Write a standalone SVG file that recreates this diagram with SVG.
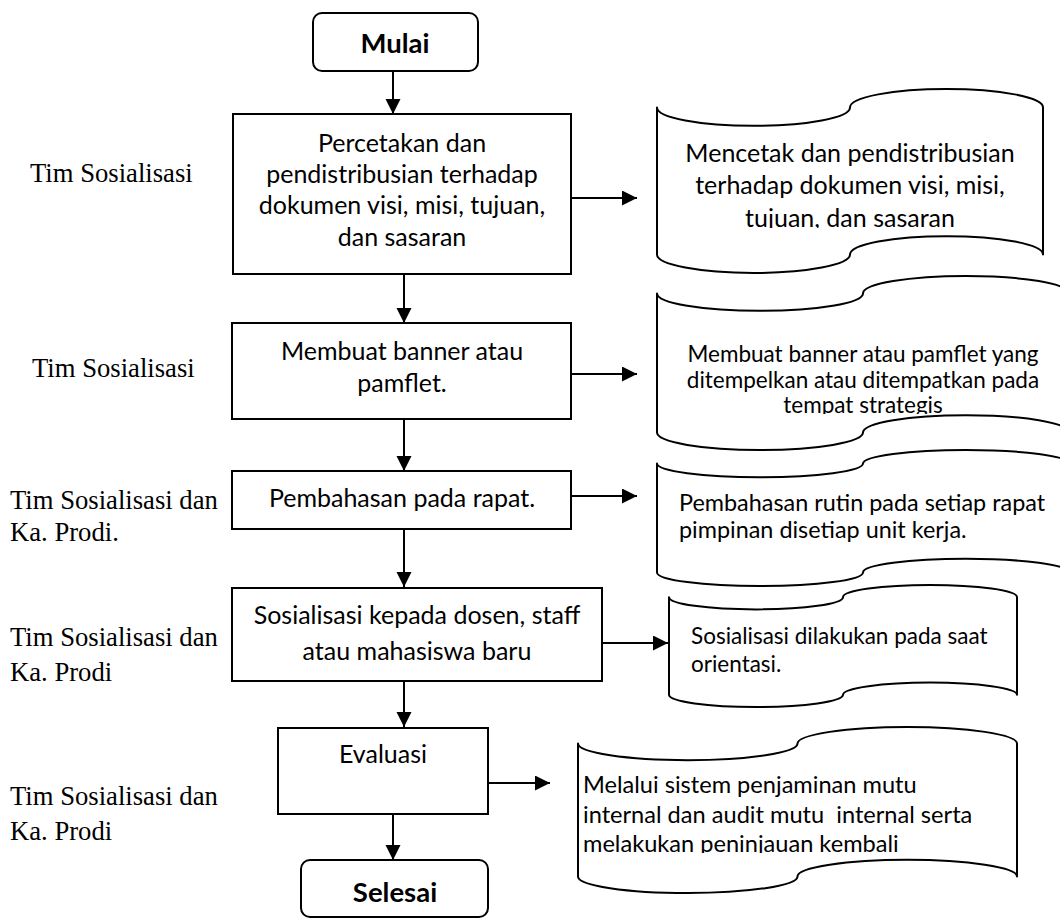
<svg xmlns="http://www.w3.org/2000/svg" width="1060" height="920" viewBox="0 0 1060 920">
<style>
.box{fill:#fff;stroke:#000;stroke-width:2}
.doc{fill:#fff;stroke:#000;stroke-width:2;stroke-linejoin:round}
.t{font-family:Lato,"Open Sans",sans-serif;fill:#000}
.bt{font-size:25px;text-anchor:middle}
.dt{font-size:22.5px}
.term{font-family:Lato,"Open Sans",sans-serif;font-weight:bold;font-size:27.5px;text-anchor:middle}
.lbl{font-family:"Liberation Serif","Times New Roman",serif;font-size:26.67px;fill:#000}
.conn{stroke:#000;stroke-width:2;fill:none;marker-end:url(#ah)}
</style>
<defs>
<marker id="ah" markerUnits="userSpaceOnUse" markerWidth="16" markerHeight="16" refX="15" refY="7.5" orient="auto">
<path d="M0,0 L15,7.5 L0,15 Z" fill="#000"/>
</marker>
<clipPath id="c1"><rect x="657" y="100" width="386" height="128"/></clipPath>
<clipPath id="c2"><rect x="657" y="290" width="412" height="124"/></clipPath>
<clipPath id="c5"><rect x="578" y="740" width="439" height="113"/></clipPath>
</defs>
<rect width="1060" height="920" fill="#fff"/>

<g id="connectors">
<line class="conn" x1="393" y1="71" x2="393" y2="114"/>
<line class="conn" x1="404" y1="274" x2="404" y2="323"/>
<line class="conn" x1="404" y1="419" x2="404" y2="471"/>
<line class="conn" x1="404" y1="529" x2="404" y2="587"/>
<line class="conn" x1="404" y1="681" x2="404" y2="727"/>
<line class="conn" x1="393" y1="814" x2="393" y2="860"/>
<line class="conn" x1="571" y1="198" x2="637" y2="198"/>
<line class="conn" x1="571" y1="374" x2="637" y2="374"/>
<line class="conn" x1="571" y1="496" x2="637" y2="496"/>
<line class="conn" x1="602" y1="643" x2="668" y2="643"/>
<line class="conn" x1="488" y1="783" x2="550" y2="783"/>
</g>

<g id="mulai">
<rect class="box" x="313" y="13" width="165" height="58" rx="9"/>
<text class="term" x="395" y="53">Mulai</text>
</g>

<g id="step1">
<rect class="box" x="233" y="114" width="338" height="160"/>
<text class="t bt" x="402" y="152">Percetakan dan</text>
<text class="t bt" x="402" y="183">pendistribusian terhadap</text>
<text class="t bt" x="402" y="214">dokumen visi, misi, tujuan,</text>
<text class="t bt" x="402" y="246">dan sasaran</text>
</g>

<g id="step2">
<rect class="box" x="232" y="323" width="339" height="96"/>
<text class="t bt" x="402" y="360">Membuat banner atau</text>
<text class="t bt" x="402" y="392">pamflet.</text>
</g>

<g id="step3">
<rect class="box" x="232" y="471" width="339" height="58"/>
<text class="t bt" x="402" y="507">Pembahasan pada rapat.</text>
</g>

<g id="step4">
<rect class="box" x="232" y="588" width="370" height="93"/>
<text class="t bt" x="417" y="624">Sosialisasi kepada dosen, staff</text>
<text class="t bt" x="417" y="660">atau mahasiswa baru</text>
</g>

<g id="step5">
<rect class="box" x="278" y="728" width="210" height="86"/>
<text class="t bt" x="383" y="763">Evaluasi</text>
</g>

<g id="selesai">
<rect class="box" x="301" y="860" width="187" height="57" rx="9"/>
<text class="term" x="395" y="902">Selesai</text>
</g>

<g id="doc1">
<path class="doc" d="M657,107.4 A96.5,18.4 0 0 0 850,107.4 A96.5,18.4 0 0 1 1043,107.4 L1043,254.6 A96.5,18.4 0 0 0 850,254.6 A96.5,18.4 0 0 1 657,254.6 Z"/>
<g clip-path="url(#c1)">
<text class="t" font-size="25" text-anchor="middle" x="850" y="162">Mencetak dan pendistribusian</text>
<text class="t" font-size="25" text-anchor="middle" x="850" y="194">terhadap dokumen visi, misi,</text>
<text class="t" font-size="25" text-anchor="middle" x="850" y="227">tujuan, dan sasaran</text>
</g>
</g>

<g id="doc2">
<path class="doc" d="M657,293.4 A103,17.4 0 0 0 863,293.4 A103,17.4 0 0 1 1069,293.4 L1069,432.6 A103,17.4 0 0 0 863,432.6 A103,17.4 0 0 1 657,432.6 Z"/>
<g clip-path="url(#c2)">
<text class="t dt" text-anchor="middle" x="863" y="362">Membuat banner atau pamflet yang</text>
<text class="t dt" text-anchor="middle" x="863" y="388">ditempelkan atau ditempatkan pada</text>
<text class="t dt" text-anchor="middle" x="863" y="413">tempat strategis</text>
</g>
</g>

<g id="doc3">
<path class="doc" d="M657,463.6 A103,13.6 0 0 0 863,463.6 A103,13.6 0 0 1 1069,463.6 L1069,572.4 A103,13.6 0 0 0 863,572.4 A103,13.6 0 0 1 657,572.4 Z"/>
<text class="t" font-size="23.4" x="679" y="511">Pembahasan rutin pada setiap rapat</text>
<text class="t" font-size="23.4" x="679" y="538">pimpinan disetiap unit kerja.</text>
</g>

<g id="doc4">
<path class="doc" d="M669,597.2 A87,12.2 0 0 0 843,597.2 A87,12.2 0 0 1 1017,597.2 L1017,694.8 A87,12.2 0 0 0 843,694.8 A87,12.2 0 0 1 669,694.8 Z"/>
<text class="t dt" x="691" y="644">Sosialisasi dilakukan pada saat</text>
<text class="t dt" x="691" y="672">orientasi.</text>
</g>

<g id="doc5">
<path class="doc" d="M578,743.6 A109.75,16.6 0 0 0 797.5,743.6 A109.75,16.6 0 0 1 1017,743.6 L1017,876.4 A109.75,16.6 0 0 0 797.5,876.4 A109.75,16.6 0 0 1 578,876.4 Z"/>
<g clip-path="url(#c5)">
<text class="t" font-size="23.6" x="583" y="793">Melalui sistem penjaminan mutu</text>
<text class="t" font-size="23.6" x="583" y="823" xml:space="preserve">internal dan audit mutu  internal serta</text>
<text class="t" font-size="23.6" x="583" y="852">melakukan peninjauan kembali</text>
</g>
</g>

<g id="labels">
<text class="lbl" x="30" y="182">Tim Sosialisasi</text>
<text class="lbl" x="32" y="377">Tim Sosialisasi</text>
<text class="lbl" x="10" y="509">Tim Sosialisasi dan</text>
<text class="lbl" x="10" y="541">Ka. Prodi.</text>
<text class="lbl" x="10" y="646">Tim Sosialisasi dan</text>
<text class="lbl" x="10" y="681">Ka. Prodi</text>
<text class="lbl" x="10" y="805">Tim Sosialisasi dan</text>
<text class="lbl" x="10" y="840">Ka. Prodi</text>
</g>
</svg>
